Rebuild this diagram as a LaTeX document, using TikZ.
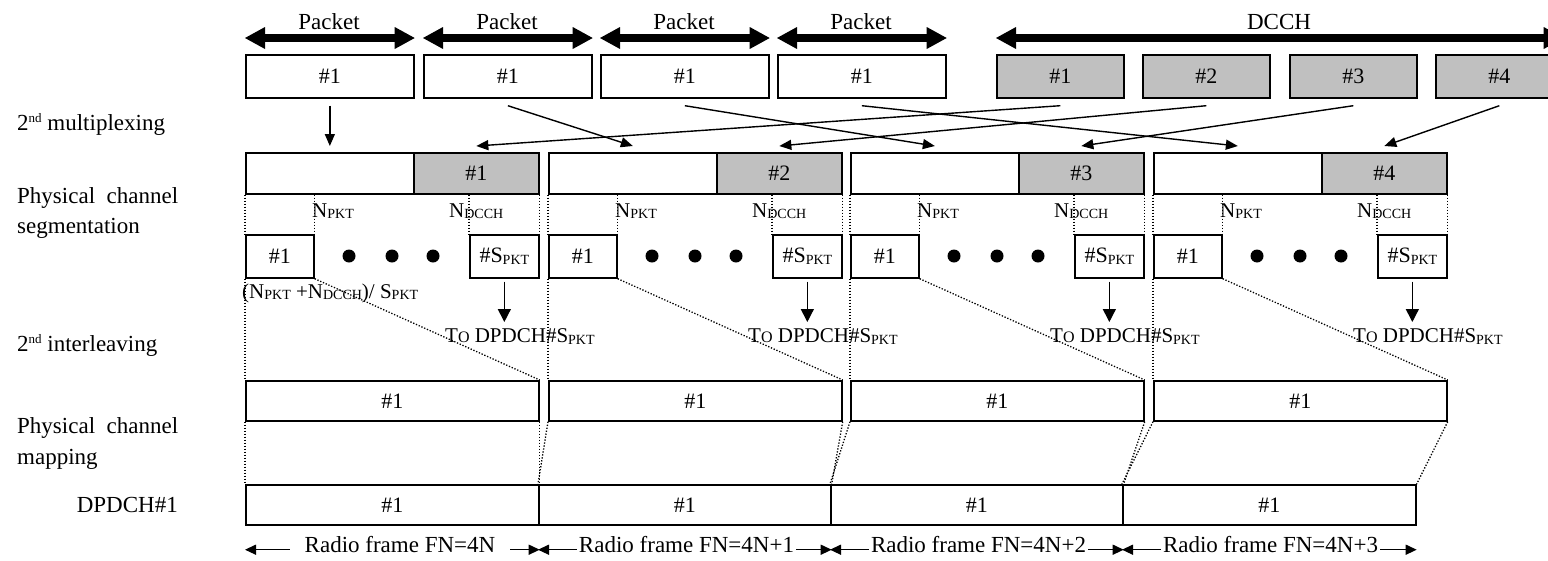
\documentclass[tikz,border=0pt]{standalone}
\usepackage{fontspec}
\setmainfont{Liberation Serif}
\usetikzlibrary{arrows.meta}
\definecolor{slotgray}{RGB}{192,192,192}
% lowered / raised small text (Word-style sub- and superscripts)
\newcommand{\lowtag}[1]{\raisebox{-1.5pt}{\fontsize{14}{14}\selectfont #1}}
\newcommand{\uptag}[1]{\raisebox{8pt}{\fontsize{13}{13}\selectfont #1}}
\newcommand{\bigtext}{\fontsize{23}{27}\selectfont}
\newcommand{\boxtext}{\fontsize{22}{26}\selectfont}
\newcommand{\smalltext}{\fontsize{21}{25}\selectfont}
\tikzset{
  box/.style={draw, line width=1.7pt, inner sep=0pt, anchor=north west, font=\boxtext},
  pktbox/.style={box, minimum width=168pt, minimum height=43pt},
  dcchbox/.style={box, fill=slotgray, minimum width=127pt, minimum height=43pt},
  whitepart/.style={box, minimum width=168pt, minimum height=41pt},
  graypart/.style={box, fill=slotgray, minimum width=125pt, minimum height=41pt},
  segbox/.style={box, minimum width=68pt, minimum height=43pt},
  ilbox/.style={box, minimum width=293pt, minimum height=40pt},
  dpbox/.style={box, minimum height=40pt},
  dotmark/.style={circle, fill=black, inner sep=0pt, minimum size=13pt},
  conn/.style={line width=1.4pt, -{Triangle[length=12pt,width=10pt]}},
  downarr/.style={line width=1.4pt, -{Triangle[length=13pt,width=13pt]}},
  bigarr/.style={line width=7.5pt,
    {Triangle[length=20pt,width=22pt,line width=0pt]}-{Triangle[length=20pt,width=22pt,line width=0pt]}},
  rarr/.style={line width=1.4pt, -{Triangle[length=11pt,width=10pt]}},
  fine/.style={line width=1.3pt, dash pattern=on 1.3pt off 1.7pt},
  plain/.style={inner sep=0pt, font=\bigtext},
  small/.style={inner sep=0pt, font=\smalltext},
}
\begin{document}
\begin{tikzpicture}[x=1pt, y=-1pt]
\useasboundingbox (0,0) rectangle (1548,560);
\clip (0,0) rectangle (1548,560);

% row labels on the left
\node[plain, anchor=base west] (lab1) at (17,130) {2\uptag{nd} multiplexing};
\node[plain, anchor=base west] (lab2) at (17,203) {\hbox to 161pt{Physical\hfill channel}};
\node[plain, anchor=base west] (lab3) at (17,233) {segmentation};
\node[plain, anchor=base west] (lab4) at (17,351) {2\uptag{nd} interleaving};
\node[plain, anchor=base west] (lab5) at (17,433) {\hbox to 161pt{Physical\hfill channel}};
\node[plain, anchor=base west] (lab6) at (17,464) {mapping};
\node[plain, anchor=base east] (lab7) at (178,512) {DPDCH\#1};

% packet transport blocks with their span arrows
\foreach \i/\X in {1/245,2/423,3/600,4/777}{
  \node[pktbox] (p\i) at (\X,54) {\#1};
  \draw[bigarr] ([yshift=16pt]p\i.north west) -- ([yshift=16pt]p\i.north east);
  \node[plain, anchor=base] (pl\i) at (\X+84,29.5) {Packet};
}

% DCCH blocks
\foreach \i/\X in {1/996,2/1142,3/1289,4/1435}{
  \node[dcchbox] (d\i) at (\X,54) {\#\i};
}
\draw[bigarr] ([yshift=16pt]d1.north west) -- ([yshift=16pt]d4.north east);
\node[plain, anchor=base] (dl) at (1279,29.5) {DCCH};

% DPDCH#1 radio frames
\foreach \i/\X/\W in {1/245/293,2/538/292,3/830/292,4/1122/293}{
  \node[dpbox, minimum width=\W pt] (dp\i) at (\X,484) {\#1};
}

% one column per radio frame
\foreach \i/\L in {1/245,2/548,3/850,4/1153}{
  % 2nd multiplexing result
  \node[whitepart] (fw\i) at (\L,152) {};
  \node[graypart] (fg\i) at (\L+168,152) {\#\i};
  \draw[conn] ([yshift=-7pt]p\i.south) -- ([yshift=6pt]fw\i.north);
  \draw[conn] ([yshift=-7pt]d\i.south) -- ([yshift=6pt]fg\i.north);
  % segmentation
  \node[segbox] (sa\i) at (\L,234) {\#1};
  \node[segbox, minimum width=69pt] (sb\i) at (\L+224,234) {\#S\lowtag{PKT}};
  \node[dotmark] (ma\i) at (\L+104,256) {};
  \node[dotmark] (mb\i) at (\L+147,256) {};
  \node[dotmark] (mc\i) at (\L+188,256) {};
  \node[small, anchor=base west] (np\i) at (\L+67,217) {N\lowtag{PKT}};
  \node[small, anchor=base west] (nd\i) at (\L+204,217) {N\lowtag{DCCH}};
  \draw[fine] (fw\i.south west) -- (sa\i.north west);
  \draw[fine] (sa\i.north east |- fw\i.south) -- (sa\i.north east);
  \draw[fine] (sb\i.north west |- fg\i.south) -- (sb\i.north west);
  \draw[fine] (fg\i.south east) -- (sb\i.north east);
  % output towards the other DPDCH
  \coordinate (tip\i) at (\L+258.5,322);
  \draw[downarr] ([yshift=-3pt]sb\i.south) -- (sb\i.south |- tip\i);
  \node[small, anchor=base west] (to\i) at (\L+200,342.5)
    {T{\fontsize{16}{16}\selectfont O} DPDCH\#S\lowtag{PKT}};
  % 2nd interleaving
  \node[ilbox] (il\i) at (\L,380) {\#1};
  \draw[fine] (sa\i.south west) -- (il\i.north west);
  \draw[fine] (sa\i.south east) -- (il\i.north east);
  % physical channel mapping
  \draw[fine] (il\i.south west) -- (dp\i.north west);
  \draw[fine] (il\i.south east) -- (dp\i.north east);
}

\node[small, anchor=base west] (seglen) at (242,298)
  {(N\lowtag{PKT} +N\lowtag{DCCH})/ S\lowtag{PKT}};

% radio frame spans
\node[plain, anchor=base, inner xsep=15pt] (r1) at (400,552) {Radio frame FN=4N};
\node[plain, anchor=base, inner xsep=2pt] (r2) at (686.5,552) {Radio frame FN=4N+1};
\node[plain, anchor=base, inner xsep=2pt] (r3) at (978.5,552) {Radio frame FN=4N+2};
\node[plain, anchor=base, inner xsep=2pt] (r4) at (1270.5,552) {Radio frame FN=4N+3};
\foreach \i in {1,2,3,4}{
  \draw[rarr] (r\i.mid west) -- (r\i.mid west -| dp\i.west);
  \draw[rarr] (r\i.mid east) -- (r\i.mid east -| dp\i.east);
}
\end{tikzpicture}
\end{document}
